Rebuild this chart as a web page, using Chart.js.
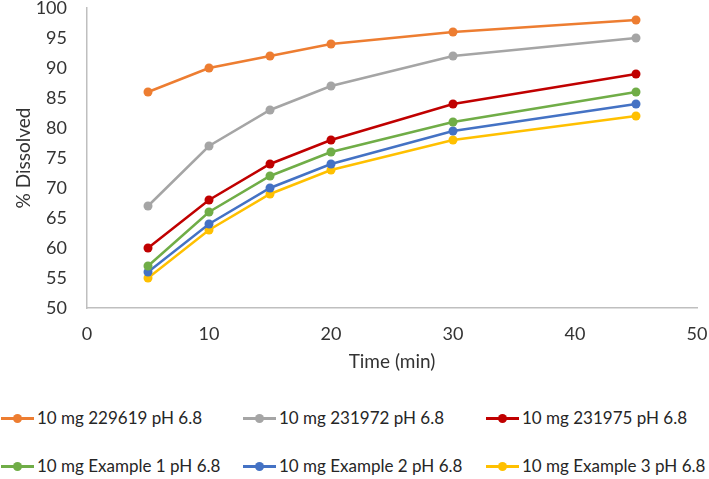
<!DOCTYPE html>
<html>
<head>
<meta charset="utf-8">
<script src="https://cdn.jsdelivr.net/npm/chart.js@4/dist/chart.umd.min.js"></script>
<style>
  html, body { margin: 0; padding: 0; background: #fff; }
  body { width: 709px; height: 479px; overflow: hidden; font-family: Lato, sans-serif; position: relative; }
  #wrap { position: absolute; left: 0; top: 0; width: 709px; height: 385px; }
  .leg { position: absolute; font-size: 17px; color: #262626; white-space: nowrap; line-height: 20px; }
  .leg .sym { display: inline-block; position: relative; width: 33px; height: 20px; vertical-align: top; margin-right: 3px; }
  .leg .sym:before { content: ""; position: absolute; left: 0; right: 0; top: 9px; height: 2.5px; background: var(--c); }
  .leg .sym:after { content: ""; position: absolute; left: 12px; top: 5.5px; width: 9px; height: 9px; border-radius: 50%; background: var(--c); }
</style>
</head>
<body>
<div id="wrap"><canvas id="chart"></canvas></div>
<div id="legend"></div>
<script>
const times = [5, 10, 15, 20, 30, 45];
const seriesNames = [
  '10 mg 229619 pH 6.8',
  '10 mg 231972 pH 6.8',
  '10 mg 231975 pH 6.8',
  '10 mg Example 1 pH 6.8',
  '10 mg Example 2 pH 6.8',
  '10 mg Example 3 pH 6.8'
];
const s229619 = [86, 90, 92, 94, 96, 98];
const s231972 = [67, 77, 83, 87, 92, 95];
const s231975 = [60, 68, 74, 78, 84, 89];
const example1 = [57, 66, 72, 76, 81, 86];
const example2 = [56, 64, 70, 74, 79.5, 84];
const example3 = [55, 63, 69, 73, 78, 82];
const xTicks = [0, 10, 20, 30, 40, 50];
const yTicks = [50, 55, 60, 65, 70, 75, 80, 85, 90, 95, 100];

const colors = ['#ED7D31', '#A5A5A5', '#C00000', '#70AD47', '#4472C4', '#FFC000'];
const allValues = [s229619, s231972, s231975, example1, example2, example3];

const datasets = allValues.map((vals, i) => ({
  label: seriesNames[i],
  data: vals.map((v, j) => ({ x: times[j], y: v })),
  borderColor: colors[i],
  backgroundColor: colors[i],
  borderWidth: 2.5,
  pointRadius: 4.5,
  pointBorderWidth: 0,
  tension: 0
}));

const tickFont = { family: 'Lato, sans-serif', size: 18 };

new Chart(document.getElementById('chart'), {
  type: 'line',
  data: { datasets },
  options: {
    responsive: true,
    maintainAspectRatio: false,
    animation: false,
    layout: { padding: { top: 8, right: 12, left: 0, bottom: 0 } },
    plugins: { legend: { display: false }, tooltip: { enabled: false } },
    scales: {
      x: {
        type: 'linear',
        min: 0, max: 50,
        afterBuildTicks: s => { s.ticks = xTicks.map(v => ({ value: v })); },
        grid: { display: false, drawTicks: false },
        border: { display: true, color: '#BFBFBF', width: 1.5 },
        ticks: { color: '#333', font: tickFont, padding: 15 },
        title: { display: true, text: 'Time (min)', color: '#333', font: { family: 'Lato, sans-serif', size: 19 }, padding: { top: 0, bottom: 12 } },
        // drop the automatic edge padding for the end labels, layout.padding handles it
        afterFit: s => { s.height = 77; s.paddingLeft = 0; s.paddingRight = 0; }
      },
      y: {
        min: 50, max: 100,
        afterBuildTicks: s => { s.ticks = yTicks.map(v => ({ value: v })); },
        grid: { display: false, drawTicks: false },
        border: { display: true, color: '#BFBFBF', width: 1.5 },
        ticks: { color: '#333', font: tickFont, padding: 20 },
        title: { display: true, text: '% Dissolved', color: '#333', font: { family: 'Lato, sans-serif', size: 19 }, padding: { top: 12, bottom: 0 } },
        afterFit: s => { s.width = 87; s.paddingTop = 0; s.paddingBottom = 0; }
      }
    }
  }
});

// legend laid out like the original: 2 rows x 3 columns
const legX = [1, 243, 486];
const legY = [408, 456];
const legend = document.getElementById('legend');
seriesNames.forEach((name, i) => {
  const d = document.createElement('div');
  d.className = 'leg';
  d.style.left = legX[i % 3] + 'px';
  d.style.top = legY[Math.floor(i / 3)] + 'px';
  d.innerHTML = `<span class="sym" style="--c:${colors[i]}"></span>${name}`;
  legend.appendChild(d);
});
</script>
</body>
</html>
